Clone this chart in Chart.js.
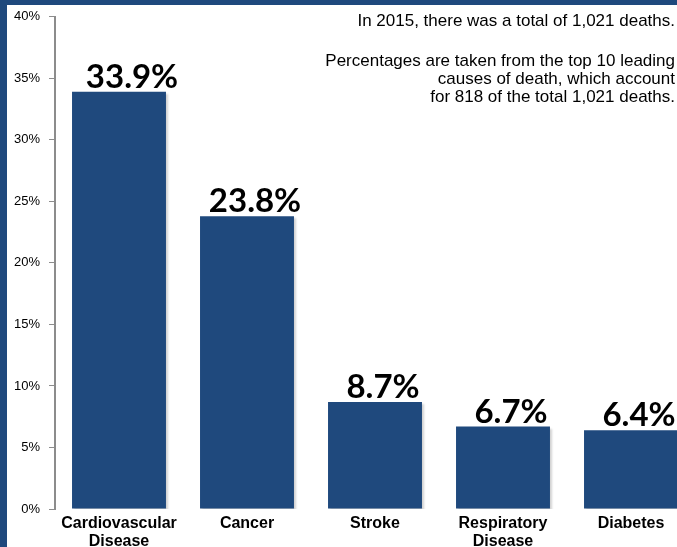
<!DOCTYPE html>
<html>
<head>
<meta charset="utf-8">
<script src="https://cdn.jsdelivr.net/npm/chart.js@4.4.1/dist/chart.umd.min.js"></script>
<style>
  html, body { margin: 0; padding: 0; background: #fff; }
  #wrap { position: relative; width: 677px; height: 547px; overflow: hidden; background: #fff; }
  #cv { position: absolute; left: 0; top: 0; }
  .band-top { position: absolute; left: 0; top: 0; width: 677px; height: 5px; background: #1F497D; }
  .band-left { position: absolute; left: 0; top: 0; width: 7px; height: 547px; background: #1F497D; }
  .note { position: absolute; right: 2px; font-family: "Liberation Sans", Arial, sans-serif; font-size: 17px; color: #000; text-align: right; line-height: 18px; white-space: nowrap; }
</style>
</head>
<body>
<div id="wrap">
  <canvas id="cv" width="700" height="547" style="width:700px;height:547px"></canvas>
  <div class="band-top"></div>
  <div class="band-left"></div>
  <div class="note" style="top:12px;">In 2015, there was a total of 1,021 deaths.</div>
  <div class="note" style="top:52px;">Percentages are taken from the top 10 leading<br>causes of death, which account<br>for 818 of the total 1,021 deaths.</div>
</div>
<script>
const categories = [["Cardiovascular", "Disease"], "Cancer", "Stroke", ["Respiratory", "Disease"], "Diabetes"];
const percentValues = [33.9, 23.8, 8.7, 6.7, 6.4];
const valueLabels = ["33.9%", "23.8%", "8.7%", "6.7%", "6.4%"];
const yTicks = [0, 5, 10, 15, 20, 25, 30, 35, 40];

const labelShiftX = [13, 8, 8, 8, 8];

const labelPlugin = {
  id: 'valueLabels',
  beforeDatasetDraw(chart) {
    const ctx = chart.ctx;
    ctx.save();
    ctx.shadowColor = 'rgba(0,0,0,0.18)';
    ctx.shadowOffsetX = 2;
    ctx.shadowOffsetY = 2;
    ctx.shadowBlur = 2;
  },
  afterDatasetDraw(chart) {
    chart.ctx.restore();
  },
  afterDatasetsDraw(chart) {
    const ctx = chart.ctx;
    const meta = chart.getDatasetMeta(0);
    ctx.save();
    ctx.font = 'bold 33px Lato, "Liberation Sans", sans-serif';
    ctx.fillStyle = '#000';
    ctx.textAlign = 'center';
    ctx.textBaseline = 'alphabetic';
    meta.data.forEach((bar, i) => {
      ctx.fillText(valueLabels[i], bar.x + labelShiftX[i], bar.y - 4);
    });
    ctx.restore();
  }
};

new Chart(document.getElementById('cv'), {
  type: 'bar',
  data: {
    labels: categories,
    datasets: [{
      data: percentValues,
      backgroundColor: '#1F497D',
      borderWidth: 0,
      barPercentage: 0.734,
      categoryPercentage: 1.0
    }]
  },
  options: {
    responsive: false,
    animation: false,
    layout: { padding: { top: 14, right: 5, bottom: 0, left: 0 } },
    plugins: { legend: { display: false }, tooltip: { enabled: false } },
    scales: {
      y: {
        min: 0,
        max: 40,
        afterBuildTicks(scale) { scale.ticks = yTicks.map(v => ({ value: v })); },
        afterFit(scale) { scale.width = 55; },
        ticks: {
          callback: v => v + '%',
          font: { family: '"Liberation Sans", Arial, sans-serif', size: 13 },
          color: '#000',
          padding: 9
        },
        grid: { drawOnChartArea: false, tickLength: 6, color: '#8c8c8c', lineWidth: 1 },
        border: { color: '#8c8c8c', width: 2 }
      },
      x: {
        afterFit(scale) { scale.height = 38; },
        ticks: {
          font: { family: '"Liberation Sans", Arial, sans-serif', size: 16, weight: 'bold', lineHeight: 1.1 },
          color: '#000',
          padding: 6,
          maxRotation: 0,
          autoSkip: false
        },
        grid: { display: false, drawTicks: false, tickLength: 0 },
        border: { display: false }
      }
    }
  },
  plugins: [labelPlugin]
});
</script>
</body>
</html>
